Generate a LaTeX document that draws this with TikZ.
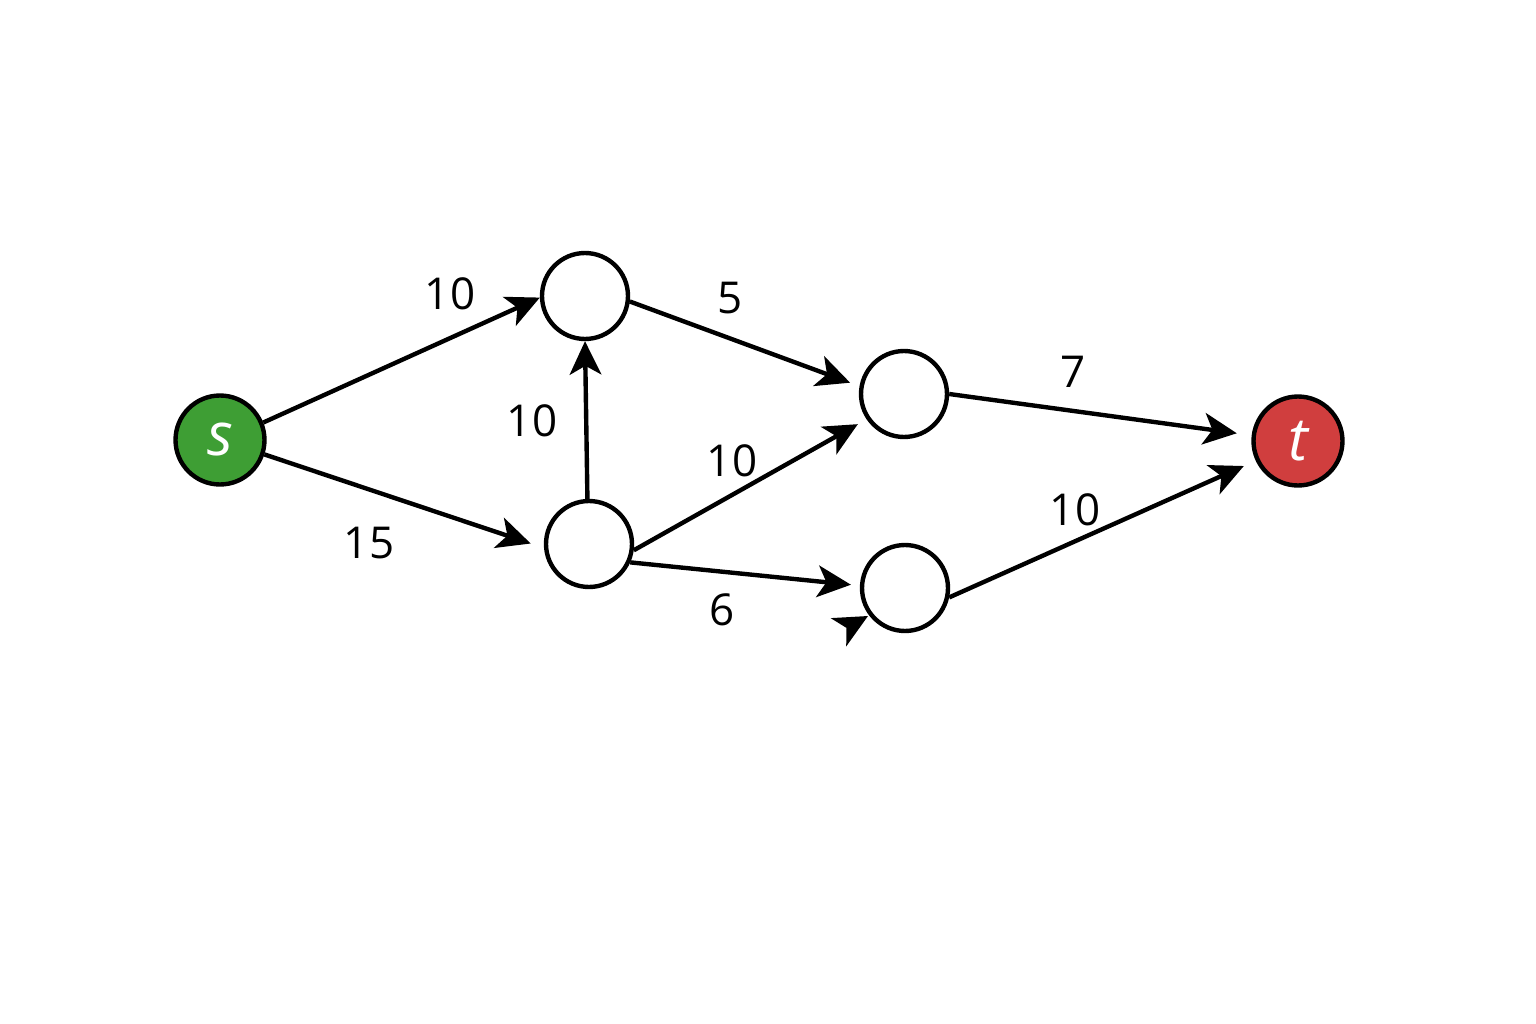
\documentclass[tikz,border=0pt]{standalone}
\usepackage{fontspec}
\setmainfont{Open Sans}
\usetikzlibrary{arrows.meta}
\definecolor{sgreen}{RGB}{62,158,52}
\definecolor{tred}{RGB}{208,62,62}
\tikzset{
  vert/.style={circle, draw=black, line width=2.5pt, minimum size=1.72cm, inner sep=0pt, fill=white},
  edge/.style={line width=2.5pt, -{Stealth[length=19pt,width=18pt,inset=5pt]}},
  lbl/.style={font=\fontsize{25}{30}\selectfont, inner sep=0pt},
  term/.style={vert, minimum size=1.78cm, text=white, font=\fontsize{34}{36}\selectfont\itshape}
}
\begin{document}
\begin{tikzpicture}[x=0.02cm, y=-0.02cm]
\useasboundingbox (0,0) rectangle (1536,1024);
\fill[white] (0,0) rectangle (1536,1024);
\node[term, fill=sgreen] (s) at (220,440) {s};
\node[term, fill=tred] (t) at (1298,441) {t};
\node[vert] (a) at (585,296) {};
\node[vert] (b) at (589,544) {};
\node[vert] (c) at (904,394) {};
\node[vert] (d) at (905,588) {};
\draw[edge] (s.22) -- (a.182);
\draw[edge, shorten >=0.28cm] (s.-18) -- (b.185);
\draw[edge] (b.92) -- (a.south);
\draw[edge, shorten >=0.2cm] (a.-7) -- (c.170);
\draw[edge, shorten >=0.2cm] (b.-8) -- (c.214);
\draw[edge, shorten >=0.18cm] (b.-24) -- (d.177);
\draw[edge, shorten >=0.3cm] (c.0) -- (t.173);
\draw[edge, shorten >=0.26cm] (d.-12) -- (t.205);
\coordinate (x1) at (848,627);
\coordinate (x2) at (868,616);
\draw[edge] (x1) -- (x2);
\node[lbl] (l1) at (450,294) {10};
\node[lbl] (l2) at (369,543) {15};
\node[lbl] (l3) at (532,421) {10};
\node[lbl] (l4) at (730,298) {5};
\node[lbl] (l5) at (732,461) {10};
\node[lbl] (l6) at (722,610) {6};
\node[lbl] (l7) at (1073,372) {7};
\node[lbl] (l8) at (1075,510) {10};
\end{tikzpicture}
\end{document}
